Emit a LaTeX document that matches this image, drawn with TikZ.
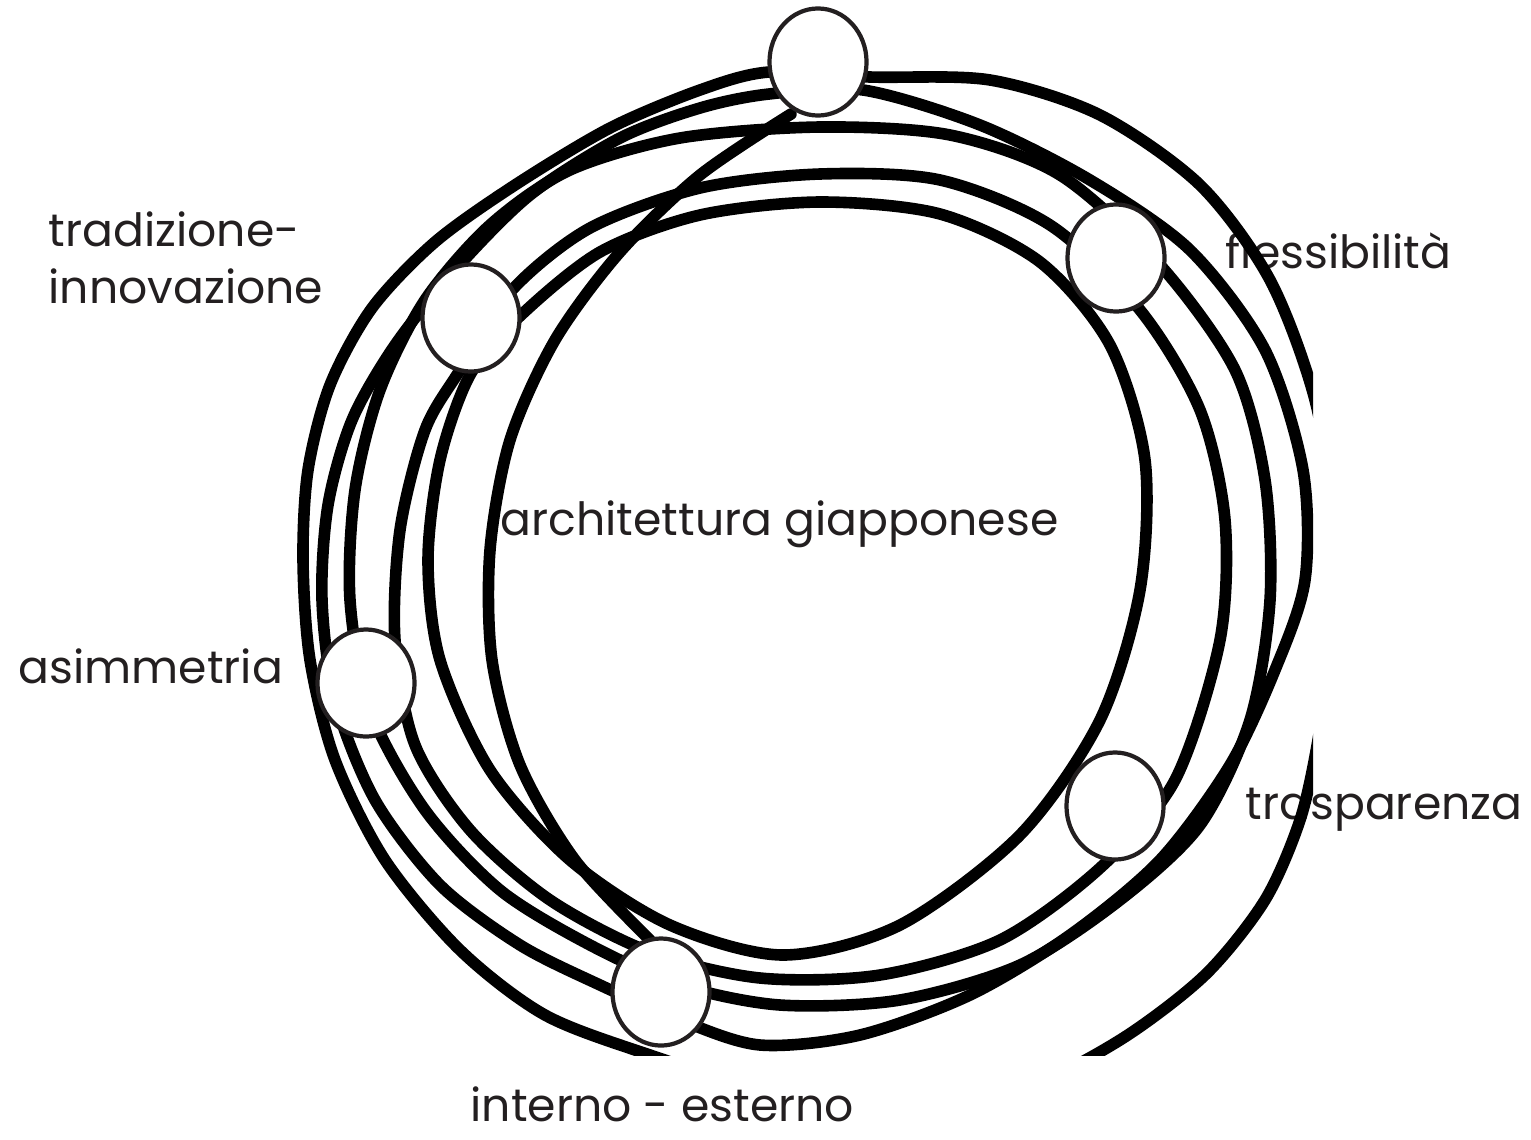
\documentclass[tikz,border=0pt]{standalone}
\usepackage{fontspec}
\setmainfont{Poppins}
\usetikzlibrary{shapes.geometric}
\definecolor{inkgrey}{HTML}{231F20}

\begin{document}
\begin{tikzpicture}[x=0.01cm,y=-0.01cm,
  ring/.style={line width=3.3pt,line join=round,line cap=round},
  knot/.style={ellipse,draw=inkgrey,fill=white,line width=1.2pt,
    minimum width=0.97cm,minimum height=1.07cm,inner sep=0pt},
  lbl/.style={font=\fontsize{13}{16.2}\selectfont,text=inkgrey,
    inner sep=0pt,align=left}]
  \useasboundingbox (0,0) rectangle (1531,1139);

  % labels
  \node[lbl,anchor=west] (tradlbl) at (48,258) {tradizione-\\innovazione};
  \node[lbl,anchor=base west] (flexlbl) at (1225,268) {flessibilità};
  \node[lbl,anchor=base west] (archlbl) at (500,535) {architettura giapponese};
  \node[lbl,anchor=base west] (asimlbl) at (18,683) {asimmetria};
  \node[lbl,anchor=base west] (trasplbl) at (1245,819) {trasparenza};
  \node[lbl,anchor=base west] (interlbl) at (470,1121) {interno - esterno};

  % the scribbled rings
  \begin{scope}
    \clip (0,0) rectangle (1313,1055);
    \draw[ring] plot[smooth cycle] coordinates {(870,77) (990,80)
      (1100,115) (1200,185) (1270,280) (1315,400) (1335,530) (1330,650)
      (1318,740) (1300,820) (1265,900) (1205,975) (1120,1040) (1020,1090)
      (900,1110) (780,1095) (650,1055) (545,1015) (460,950) (385,860)
      (335,760) (310,660) (303,560) (308,470) (330,385) (372,308)
      (435,242) (515,185) (610,128) (700,90) (769,72)};
    \draw[ring] plot[smooth cycle] coordinates {(863,90) (980,125)
      (1090,180) (1190,250) (1265,350) (1303,470) (1305,580) (1275,670)
      (1230,765) (1160,860) (1070,935) (970,995) (860,1035) (760,1045)
      (680,1020) (600,985) (520,945) (440,885) (375,800) (335,700)
      (322,600) (328,505) (352,420) (395,345) (455,270) (530,195)
      (620,138) (700,108) (769,94)};
    \draw[ring] plot[smooth cycle] coordinates {(820,127) (950,135)
      (1060,175) (1160,265) (1235,370) (1265,480) (1270,600) (1250,720)
      (1200,825) (1120,900) (1020,965) (900,1000) (780,1005) (680,985)
      (590,945) (500,890) (425,810) (370,710) (350,600) (355,490)
      (380,390) (425,300) (490,225) (570,170) (680,138)};
    \draw[ring] plot[smooth cycle] coordinates {(512,290) (590,228)
      (700,188) (820,174) (940,180) (1050,225) (1140,310) (1200,410)
      (1225,520) (1220,640) (1175,780) (1100,868) (1000,940) (880,975)
      (760,978) (650,952) (550,900) (470,830) (415,745) (395,640)
      (400,530) (425,430) (460,370)};
    \draw[ring] plot[smooth cycle] coordinates {(519,317) (600,252)
      (700,215) (820,202) (940,214) (1040,262) (1110,345) (1145,460)
      (1140,590) (1100,720) (1020,835) (900,925) (783,955) (670,925)
      (570,860) (490,770) (440,660) (428,560) (440,460) (470,375)};
    \draw[ring] plot[smooth] coordinates {(791,114) (700,175) (620,252)
      (555,340) (510,440) (490,550) (492,660) (520,765) (575,860)
      (650,940)};
  \end{scope}

  % knots on the rings
  \node[knot] (topknot) at (818,62) {};
  \node[knot] (flexknot) at (1116,258) {};
  \node[knot] (tradknot) at (471,318) {};
  \node[knot] (asimknot) at (366,683) {};
  \node[knot] (traspknot) at (1115,806) {};
  \node[knot] (interknot) at (661,992) {};
\end{tikzpicture}
\end{document}
